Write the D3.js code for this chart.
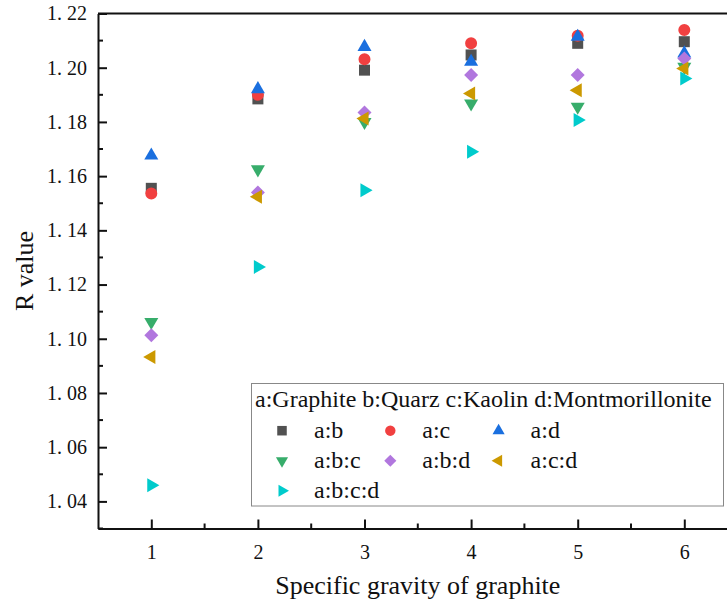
<!DOCTYPE html>
<html>
<head>
<meta charset="utf-8">
<script src="https://cdn.jsdelivr.net/npm/d3@7"></script>
<style>
  body { margin: 0; background: #fff; }
  svg text { font-family: "Liberation Serif", "Times New Roman", serif; fill: #111; }
</style>
</head>
<body>
<div id="chart"></div>
<script>
// specific gravity of graphite (x) and R value per mixture
const gravity = [1, 2, 3, 4, 5, 6];
const seriesNames = ["a:b", "a:c", "a:d", "a:b:c", "a:b:d", "a:c:d", "a:b:c:d"];
const ab   = [1.1555, 1.1885, 1.1991, 1.2047, 1.2090, 1.2096];
const ac   = [1.1536, 1.1900, 1.2031, 1.2090, 1.2118, 1.2139];
const ad   = [1.1676, 1.1921, 1.2077, 1.2022, 1.2114, 1.2053];
const abc  = [1.1062, 1.1625, 1.1800, 1.1868, 1.1856, 1.2003];
const abd  = [1.1013, 1.1540, 1.1835, 1.1973, 1.1973, 1.2034];
const acd  = [1.0933, 1.1524, 1.1813, 1.1905, 1.1917, 1.1997];
const abcd = [1.0460, 1.1265, 1.1548, 1.1690, 1.1807, 1.1960];
const yTicks = [1.04, 1.06, 1.08, 1.10, 1.12, 1.14, 1.16, 1.18, 1.20, 1.22];
const legendTitle = "a:Graphite b:Quarz c:Kaolin d:Montmorillonite";

const colors = ["#515151", "#F14040", "#1A6FDF", "#37AD6B", "#B177DE", "#CC9900", "#00CBCC"];
// marker: symbol type, area, rotation
const markers = [
  { type: d3.symbolSquare,   size: 121, rot: 0 },
  { type: d3.symbolCircle,   size: 113, rot: 0 },
  { type: d3.symbolTriangle, size: 85,  rot: 0 },
  { type: d3.symbolTriangle, size: 85,  rot: 180 },
  { type: d3.symbolSquare,   size: 98,  rot: 45 },
  { type: d3.symbolTriangle, size: 85,  rot: -90 },
  { type: d3.symbolTriangle, size: 85,  rot: 90 }
];
const allSeries = [ab, ac, ad, abc, abd, acd, abcd];

const W = 727, H = 602;
const margin = { top: 13.5, left: 98, bottom: 528.5, right: 737.6 };

const svg = d3.select("#chart").append("svg")
  .attr("width", W).attr("height", H);

const x = d3.scaleLinear().domain([0.5, 6.5]).range([margin.left, margin.right]);
const y = d3.scaleLinear().domain([1.03, 1.22]).range([margin.bottom, margin.top]);

// frame (top and right lines)
svg.append("line")
  .attr("x1", margin.left).attr("x2", margin.right)
  .attr("y1", margin.top).attr("y2", margin.top)
  .attr("stroke", "#111").attr("stroke-width", 2);
svg.append("line")
  .attr("x1", margin.right).attr("x2", margin.right)
  .attr("y1", margin.top).attr("y2", margin.bottom)
  .attr("stroke", "#111").attr("stroke-width", 2);

// minor ticks
const yMinor = d3.range(1.03, 1.2201, 0.02);
svg.append("g").selectAll("line").data(yMinor).join("line")
  .attr("x1", margin.left).attr("x2", margin.left + 5)
  .attr("y1", d => y(d)).attr("y2", d => y(d))
  .attr("stroke", "#111").attr("stroke-width", 2);
const xMinor = d3.range(1.5, 6.5, 1);
svg.append("g").selectAll("line").data(xMinor).join("line")
  .attr("x1", d => x(d)).attr("x2", d => x(d))
  .attr("y1", margin.bottom).attr("y2", margin.bottom - 5)
  .attr("stroke", "#111").attr("stroke-width", 2);

// y axis
const yAxis = svg.append("g")
  .attr("transform", `translate(${margin.left},0)`)
  .call(d3.axisLeft(y).tickValues(yTicks)
    .tickSizeInner(-9).tickSizeOuter(0).tickPadding(11)
    .tickFormat(d => d3.format(".2f")(d).replace(".", ". ")));
yAxis.select(".domain").attr("stroke", "#111").attr("stroke-width", 2);
yAxis.selectAll(".tick line").attr("stroke", "#111").attr("stroke-width", 2);
yAxis.selectAll("text").attr("font-size", 20).attr("font-family", "Liberation Serif")
  .attr("fill", "#222").style("white-space", "pre");

// x axis
const xAxis = svg.append("g")
  .attr("transform", `translate(0,${margin.bottom})`)
  .call(d3.axisBottom(x).tickValues(gravity)
    .tickSizeInner(-9).tickSizeOuter(0).tickFormat(d3.format("d")));
xAxis.select(".domain").attr("stroke", "#111").attr("stroke-width", 2);
xAxis.selectAll(".tick line").attr("stroke", "#111").attr("stroke-width", 2);
xAxis.selectAll("text").attr("font-size", 20).attr("font-family", "Liberation Serif")
  .attr("fill", "#222").attr("y", 30).attr("dy", 0);

// axis titles
svg.append("text")
  .attr("x", (margin.left + margin.right) / 2).attr("y", 594)
  .attr("text-anchor", "middle").attr("font-size", 26)
  .text("Specific gravity of graphite");
svg.append("text")
  .attr("transform", `translate(33,${(margin.top + margin.bottom) / 2}) rotate(-90)`)
  .attr("text-anchor", "middle").attr("font-size", 26)
  .text("R value");

// data points
const sym = d3.symbol();
allSeries.forEach((vals, i) => {
  const m = markers[i];
  svg.append("g").selectAll("path").data(vals).join("path")
    .attr("d", sym.type(m.type).size(m.size)())
    .attr("transform", (d, j) => `translate(${x(gravity[j])},${y(d)}) rotate(${m.rot})`)
    .attr("fill", colors[i]);
});

// legend
const lg = svg.append("g");
lg.append("rect")
  .attr("x", 251.5).attr("y", 383.5).attr("width", 472).attr("height", 122.5)
  .attr("fill", "#fff").attr("stroke", "#888").attr("stroke-width", 1);
lg.append("text").attr("x", 255).attr("y", 407).attr("font-size", 24).text(legendTitle);
seriesNames.forEach((name, i) => {
  const col = i % 3, row = Math.floor(i / 3);
  const cx = 282 + col * 108.3, cy = 430.7 + row * 30;
  const m = markers[i];
  lg.append("path")
    .attr("d", sym.type(m.type).size(m.size * 0.75)())
    .attr("transform", `translate(${cx},${cy}) rotate(${m.rot})`)
    .attr("fill", colors[i]);
  lg.append("text").attr("x", cx + 32).attr("y", cy + 7.5).attr("font-size", 24).text(name);
});
</script>
</body>
</html>
